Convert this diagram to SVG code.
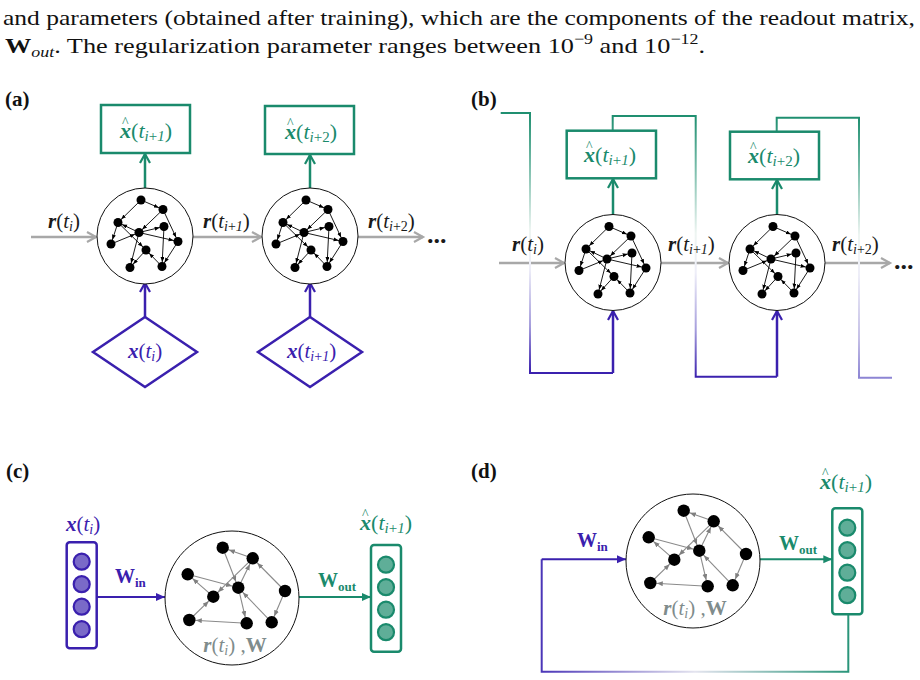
<svg xmlns="http://www.w3.org/2000/svg" width="920" height="680" viewBox="0 0 920 680">
<style>
text{font-family:"Liberation Serif","Times New Roman",serif;}
.t{font-size:21px}
.th{font-size:22px}
.bi{font-weight:bold;font-style:italic}
.it{font-style:italic}
.b{font-weight:bold}
.sub{font-size:14px}
.subh{font-size:15px}
.hat{font-size:14px;font-style:normal;font-weight:normal}
.pl{font-size:21px;font-weight:bold;fill:#111}
.grn{fill:#1a8a6c}
.pur{fill:#3a20ae}
.blk{fill:#1a1a1a}
.gry{fill:#7f8c8c}
.res{fill:#fff;stroke:#111;stroke-width:1}
.boxg{fill:#fff;stroke:#1a8a6c;stroke-width:2.5}
.dia{fill:#fff;stroke:#3a20ae;stroke-width:2.5}
.vecp{fill:#fff;stroke:#3a20ae;stroke-width:2.5}
.vecg{fill:#fff;stroke:#1a8a6c;stroke-width:2.5}
.cp{fill:#7a6ac8;stroke:#3a20ae;stroke-width:2.2}
.cg{fill:#5fae98;stroke:#1a8a6c;stroke-width:2.2}
.ea{stroke:#000;stroke-width:0.9;fill:none;marker-end:url(#arrA)}
.ec{stroke:#8a8a8a;stroke-width:1.1;fill:none;marker-end:url(#arrC)}
.gr{stroke:#a8a8a8;stroke-width:2.5;fill:none;marker-end:url(#chevGray)}
.ga{stroke:#1a8a6c;stroke-width:2.5;fill:none;marker-end:url(#chevGreen)}
.pa{stroke:#3a20ae;stroke-width:2.5;fill:none;marker-end:url(#chevPur)}
.fb{stroke-width:2;fill:none}
</style>
<defs>
<marker id="arrA" markerUnits="userSpaceOnUse" markerWidth="12" markerHeight="6" refX="9.5" refY="2" orient="auto"><path d="M0,0 L5,2 L0,4 z" fill="#000"/></marker>
<marker id="arrC" markerUnits="userSpaceOnUse" markerWidth="14" markerHeight="6" refX="12.5" refY="2.5" orient="auto"><path d="M0,0 L6,2.5 L0,5 z" fill="#808080"/></marker>
<marker id="chevGray" markerUnits="userSpaceOnUse" markerWidth="14" markerHeight="14" refX="9" refY="5" orient="auto" overflow="visible"><path d="M0,0 L9,5 L0,10" fill="none" stroke="#a8a8a8" stroke-width="2.2"/></marker>
<marker id="chevGreen" markerUnits="userSpaceOnUse" markerWidth="14" markerHeight="14" refX="9" refY="5" orient="auto" overflow="visible"><path d="M0,0 L9,5 L0,10" fill="none" stroke="#1a8a6c" stroke-width="2.2"/></marker>
<marker id="chevPur" markerUnits="userSpaceOnUse" markerWidth="14" markerHeight="14" refX="9" refY="5" orient="auto" overflow="visible"><path d="M0,0 L9,5 L0,10" fill="none" stroke="#3a20ae" stroke-width="2.2"/></marker>
<marker id="triPur" markerUnits="userSpaceOnUse" markerWidth="12" markerHeight="10" refX="9" refY="4" orient="auto"><path d="M0,0 L9,4 L0,8 z" fill="#3a20ae"/></marker>
<marker id="triGrn" markerUnits="userSpaceOnUse" markerWidth="12" markerHeight="10" refX="9" refY="4" orient="auto"><path d="M0,0 L9,4 L0,8 z" fill="#1a8a6c"/></marker>
<linearGradient id="gB1" gradientUnits="userSpaceOnUse" x1="0" y1="113" x2="0" y2="373">
<stop offset="0" stop-color="#1f8f70"/><stop offset="0.18" stop-color="#6fb8a4"/><stop offset="0.45" stop-color="#eef5f2"/><stop offset="0.6" stop-color="#eeeef8"/><stop offset="0.82" stop-color="#a59ddc"/><stop offset="1" stop-color="#3a20ae"/></linearGradient>
<linearGradient id="gB2" gradientUnits="userSpaceOnUse" x1="0" y1="116" x2="0" y2="377">
<stop offset="0" stop-color="#1f8f70"/><stop offset="0.18" stop-color="#6fb8a4"/><stop offset="0.45" stop-color="#eef5f2"/><stop offset="0.6" stop-color="#eeeef8"/><stop offset="0.82" stop-color="#a59ddc"/><stop offset="1" stop-color="#3a20ae"/></linearGradient>
<linearGradient id="gB3" gradientUnits="userSpaceOnUse" x1="0" y1="118" x2="0" y2="378">
<stop offset="0" stop-color="#1f8f70"/><stop offset="0.18" stop-color="#6fb8a4"/><stop offset="0.45" stop-color="#eef5f2"/><stop offset="0.6" stop-color="#eeeef8"/><stop offset="0.85" stop-color="#c4bfe6"/><stop offset="1" stop-color="#8c84d4"/></linearGradient>
<linearGradient id="gD" gradientUnits="userSpaceOnUse" x1="541.7" y1="0" x2="848.3" y2="0">
<stop offset="0" stop-color="#4b36b8"/><stop offset="0.5" stop-color="#e4e4ef"/><stop offset="1" stop-color="#2a957a"/></linearGradient>
<g id="netA">
<path class="ea" d="M-4,-36 L18,-26.5"/>
<path class="ea" d="M-4,-36 L-27,-13.5"/>
<path class="ea" d="M18,-26.5 L-6,-3.5"/>
<path class="ea" d="M-27,-13.5 L-34,8"/>
<path class="ea" d="M-6,-3.5 L-27,-13.5"/>
<path class="ea" d="M-27,-13.5 L1,14"/>
<path class="ea" d="M-34,8 L-6,-3.5"/>
<path class="ea" d="M-6,-3.5 L19,-9.5"/>
<path class="ea" d="M-6,-3.5 L33,5.5"/>
<path class="ea" d="M18,-26.5 L33,5.5"/>
<path class="ea" d="M19,-9.5 L17,30.5"/>
<path class="ea" d="M-6,-3.5 L-15,31.5"/>
<path class="ea" d="M1,14 L-15,31.5"/>
<path class="ea" d="M17,30.5 L1,14"/>
<path class="ea" d="M33,5.5 L17,30.5"/>
<g fill="#000">
<circle cx="-4" cy="-36" r="4.5"/><circle cx="18" cy="-26.5" r="4.5"/><circle cx="-27" cy="-13.5" r="4.5"/><circle cx="19" cy="-9.5" r="4.5"/><circle cx="-6" cy="-3.5" r="4.5"/><circle cx="-34" cy="8" r="4.5"/><circle cx="33" cy="5.5" r="4.5"/><circle cx="1" cy="14" r="4.5"/><circle cx="-15" cy="31.5" r="4.5"/><circle cx="17" cy="30.5" r="4.5"/>
</g>
</g>
<g id="netC">
<path class="ec" d="M20.7,-39.7 L-9.3,-50.3"/>
<path class="ec" d="M-9.3,-50.3 L6.3,-10.3"/>
<path class="ec" d="M-44.3,-23.7 L6.3,-10.3"/>
<path class="ec" d="M-18.7,-1.3 L-44.3,-23.7"/>
<path class="ec" d="M20.7,-39.7 L-18.7,-1.3"/>
<path class="ec" d="M6.3,-10.3 L20.7,-39.7"/>
<path class="ec" d="M53,-7 L20.7,-39.7"/>
<path class="ec" d="M53,-7 L39.7,24.3"/>
<path class="ec" d="M39.7,24.3 L6.3,-10.3"/>
<path class="ec" d="M6.3,-10.3 L14.7,25.3"/>
<path class="ec" d="M14.7,25.3 L-42.7,22"/>
<path class="ec" d="M-42.7,22 L-18.7,-1.3"/>
<g fill="#000">
<circle cx="-9.3" cy="-50.3" r="6.2"/><circle cx="20.7" cy="-39.7" r="6.2"/><circle cx="-44.3" cy="-23.7" r="6.2"/><circle cx="6.3" cy="-10.3" r="6.2"/><circle cx="53" cy="-7" r="6.2"/><circle cx="-18.7" cy="-1.3" r="6.2"/><circle cx="-42.7" cy="22" r="6.2"/><circle cx="14.7" cy="25.3" r="6.2"/><circle cx="39.7" cy="24.3" r="6.2"/>
</g>
</g>
</defs>

<rect width="920" height="680" fill="#fff"/>

<g id="caption" fill="#111">
<text x="3" y="25" font-size="22" textLength="912" lengthAdjust="spacingAndGlyphs">and parameters (obtained after training), which are the components of the readout matrix,</text>
<text x="5" y="53" font-size="22" textLength="700" lengthAdjust="spacingAndGlyphs"><tspan class="b">W</tspan><tspan class="it" font-size="15" dy="4">out</tspan><tspan dy="-4">. The regularization parameter ranges between 10</tspan><tspan font-size="15" dy="-9">−9</tspan><tspan dy="9"> and 10</tspan><tspan font-size="15" dy="-9">−12</tspan><tspan dy="9">.</tspan></text>
</g>

<g id="panel-labels">
<text class="pl" x="5" y="106">(a)</text>
<text class="pl" x="471" y="106">(b)</text>
<text class="pl" x="6" y="478">(c)</text>
<text class="pl" x="471" y="478">(d)</text>
</g>

<g id="connectors">
<path class="gr" d="M31,237 H96"/>
<path class="gr" d="M193,237 H261"/>
<path class="gr" d="M358,237 H423"/>
<path class="ga" d="M145,189 V154"/>
<path class="ga" d="M310,189 V155"/>
<path class="pa" d="M145,317 V283"/>
<path class="pa" d="M310,317 V283"/>
<path class="gr" d="M499,263 H564"/>
<path class="gr" d="M661,263 H728"/>
<path class="gr" d="M825,263 H890"/>
<path class="ga" d="M613,214 V179"/>
<path class="ga" d="M777,214 V180"/>
<path class="fb" stroke="url(#gB1)" d="M500.7,113 H530 V373 H613"/>
<path class="pa" d="M613,373 V311"/>
<path class="fb" stroke="url(#gB2)" d="M612.7,130.7 V116 H695.7 V376.7 H777"/>
<path class="pa" d="M777,376.7 V311"/>
<path class="fb" stroke="url(#gB3)" d="M776.7,131.7 V117.7 H859 V377.7 H892"/>
<path stroke="#3a20ae" stroke-width="2" fill="none" marker-end="url(#triPur)" d="M96.7,597 H165"/>
<path stroke="#1a8a6c" stroke-width="2" fill="none" marker-end="url(#triGrn)" d="M299,597 H371"/>
<path stroke="url(#gD)" stroke-width="2" fill="none" d="M848.3,614.3 V671.7 H541.7 V559.3"/>
<path stroke="#3a20ae" stroke-width="2" fill="none" marker-end="url(#triPur)" d="M541.7,559.3 H626"/>
<path stroke="#1a8a6c" stroke-width="2" fill="none" marker-end="url(#triGrn)" d="M760,559.3 H832.3"/>
</g>

<g id="connector-labels" class="t">
<text class="blk" x="48" y="228"><tspan class="bi">r</tspan>(<tspan class="it">t</tspan><tspan class="it sub" dy="3">i</tspan><tspan dy="-3">)</tspan></text>
<text class="blk" x="203" y="228"><tspan class="bi">r</tspan>(<tspan class="it">t</tspan><tspan class="sub" dy="3"><tspan class="it">i</tspan>+<tspan class="it">1</tspan></tspan><tspan dy="-3">)</tspan></text>
<text class="blk" x="368" y="228"><tspan class="bi">r</tspan>(<tspan class="it">t</tspan><tspan class="sub" dy="3"><tspan class="it">i</tspan>+2</tspan><tspan dy="-3">)</tspan></text>
<text class="blk b" x="427" y="243" font-size="26">...</text>
<text class="blk" x="512" y="251"><tspan class="bi">r</tspan>(<tspan class="it">t</tspan><tspan class="it sub" dy="3">i</tspan><tspan dy="-3">)</tspan></text>
<text class="blk" x="668" y="251"><tspan class="bi">r</tspan>(<tspan class="it">t</tspan><tspan class="sub" dy="3"><tspan class="it">i</tspan>+<tspan class="it">1</tspan></tspan><tspan dy="-3">)</tspan></text>
<text class="blk" x="832" y="251"><tspan class="bi">r</tspan>(<tspan class="it">t</tspan><tspan class="sub" dy="3"><tspan class="it">i</tspan>+2</tspan><tspan dy="-3">)</tspan></text>
<text class="blk b" x="894" y="269" font-size="26">...</text>
<text class="pur b" x="115" y="583" font-size="20">W<tspan font-size="13" dy="4">in</tspan></text>
<text class="grn b" x="318" y="587" font-size="20">W<tspan font-size="13" dy="4">out</tspan></text>
<text class="pur b" x="577" y="547" font-size="20">W<tspan font-size="13" dy="4">in</tspan></text>
<text class="grn b" x="779" y="550" font-size="20">W<tspan font-size="13" dy="4">out</tspan></text>
</g>

<g id="a-out1"><rect class="boxg" x="101" y="105" width="89" height="48"/>
<text class="th grn" x="120" y="138"><tspan class="bi">x</tspan><tspan class="hat" dx="-9" dy="-11">^</tspan><tspan dx="2.5" dy="11">(</tspan><tspan class="it">t</tspan><tspan class="subh" dy="3"><tspan class="it">i</tspan>+<tspan class="it">1</tspan></tspan><tspan dy="-3">)</tspan></text></g>
<g id="a-out2"><rect class="boxg" x="265" y="106" width="89" height="48"/>
<text class="th grn" x="285" y="139"><tspan class="bi">x</tspan><tspan class="hat" dx="-9" dy="-11">^</tspan><tspan dx="2.5" dy="11">(</tspan><tspan class="it">t</tspan><tspan class="subh" dy="3"><tspan class="it">i</tspan>+2</tspan><tspan dy="-3">)</tspan></text></g>
<g id="a-res1"><circle class="res" cx="145" cy="236" r="48"/><use href="#netA" x="145" y="236"/></g>
<g id="a-res2"><circle class="res" cx="310" cy="236" r="48"/><use href="#netA" x="310" y="236"/></g>
<g id="a-in1"><polygon class="dia" points="145,317 197,352 145,387 93,352"/>
<text class="t pur" x="128" y="358"><tspan class="bi">x</tspan>(<tspan class="it">t</tspan><tspan class="it sub" dy="3">i</tspan><tspan dy="-3">)</tspan></text></g>
<g id="a-in2"><polygon class="dia" points="310,317 362,352 310,387 258,352"/>
<text class="t pur" x="287" y="358"><tspan class="bi">x</tspan>(<tspan class="it">t</tspan><tspan class="sub" dy="3"><tspan class="it">i</tspan>+<tspan class="it">1</tspan></tspan><tspan dy="-3">)</tspan></text></g>

<g id="b-out1"><rect class="boxg" x="566.7" y="130.7" width="89.3" height="47.6"/>
<text class="th grn" x="584" y="162"><tspan class="bi">x</tspan><tspan class="hat" dx="-9" dy="-11">^</tspan><tspan dx="2.5" dy="11">(</tspan><tspan class="it">t</tspan><tspan class="subh" dy="3"><tspan class="it">i</tspan>+<tspan class="it">1</tspan></tspan><tspan dy="-3">)</tspan></text></g>
<g id="b-out2"><rect class="boxg" x="730" y="131.7" width="89" height="47.6"/>
<text class="th grn" x="748" y="163"><tspan class="bi">x</tspan><tspan class="hat" dx="-9" dy="-11">^</tspan><tspan dx="2.5" dy="11">(</tspan><tspan class="it">t</tspan><tspan class="subh" dy="3"><tspan class="it">i</tspan>+2</tspan><tspan dy="-3">)</tspan></text></g>
<g id="b-res1"><circle class="res" cx="613" cy="262.5" r="48"/><use href="#netA" x="613" y="262.5"/></g>
<g id="b-res2"><circle class="res" cx="777" cy="262.5" r="48"/><use href="#netA" x="777" y="262.5"/></g>

<g id="c-in">
<text class="t pur" x="66" y="531"><tspan class="bi">x</tspan>(<tspan class="it">t</tspan><tspan class="it sub" dy="3">i</tspan><tspan dy="-3">)</tspan></text>
<rect class="vecp" x="66.7" y="542.3" width="30" height="106" rx="3"/>
<circle class="cp" cx="81.7" cy="561.7" r="8"/><circle class="cp" cx="81.7" cy="584.2" r="8"/><circle class="cp" cx="81.7" cy="606.7" r="8"/><circle class="cp" cx="81.7" cy="629.2" r="8"/>
</g>
<g id="c-res"><circle class="res" cx="232" cy="598" r="67"/><use href="#netC" x="232" y="598"/>
<text class="t gry" x="235" y="652" text-anchor="middle"><tspan class="bi">r</tspan>(<tspan class="it">t</tspan><tspan class="it sub" dy="3">i</tspan><tspan dy="-3">)</tspan> ,<tspan class="b">W</tspan></text></g>
<g id="c-out">
<text class="th grn" x="360" y="530"><tspan class="bi">x</tspan><tspan class="hat" dx="-9" dy="-11">^</tspan><tspan dx="2.5" dy="11">(</tspan><tspan class="it">t</tspan><tspan class="subh" dy="3"><tspan class="it">i</tspan>+<tspan class="it">1</tspan></tspan><tspan dy="-3">)</tspan></text>
<rect class="vecg" x="371" y="545" width="30" height="106.7" rx="3"/>
<circle class="cg" cx="386" cy="564.7" r="8"/><circle class="cg" cx="386" cy="587.2" r="8"/><circle class="cg" cx="386" cy="609.7" r="8"/><circle class="cg" cx="386" cy="632.2" r="8"/>
</g>

<g id="d-res"><circle class="res" cx="693" cy="561" r="67"/><use href="#netC" x="693" y="561"/>
<text class="t gry" x="695" y="615" text-anchor="middle"><tspan class="bi">r</tspan>(<tspan class="it">t</tspan><tspan class="it sub" dy="3">i</tspan><tspan dy="-3">)</tspan> ,<tspan class="b">W</tspan></text></g>
<g id="d-out">
<text class="th grn" x="820" y="489"><tspan class="bi">x</tspan><tspan class="hat" dx="-9" dy="-11">^</tspan><tspan dx="2.5" dy="11">(</tspan><tspan class="it">t</tspan><tspan class="subh" dy="3"><tspan class="it">i</tspan>+<tspan class="it">1</tspan></tspan><tspan dy="-3">)</tspan></text>
<rect class="vecg" x="832.3" y="508.3" width="30" height="106" rx="3"/>
<circle class="cg" cx="847.3" cy="527.7" r="8"/><circle class="cg" cx="847.3" cy="550.2" r="8"/><circle class="cg" cx="847.3" cy="572.7" r="8"/><circle class="cg" cx="847.3" cy="595.2" r="8"/>
</g>
</svg>
